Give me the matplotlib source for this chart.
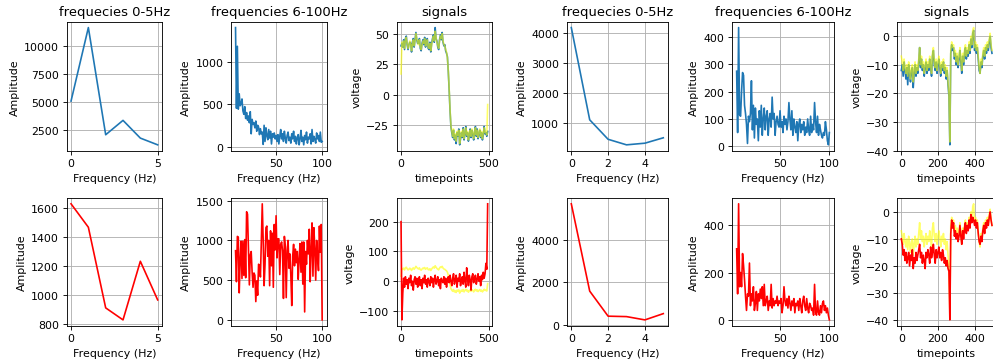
import matplotlib
matplotlib.use("Agg")
import matplotlib.pyplot as plt
import numpy as np

# frequency axes
freq_low = [0, 1, 2, 3, 4, 5]
freq_high = list(range(6, 101))
# timepoints (every 5th sample)
timepoints = list(range(0, 500, 5))

# ---- first recording ----
amp_low_1 = [5100, 11650, 2100, 3380, 1800, 1200]
amp_low_1_filt = [1629, 1467, 910, 827, 1232, 965]

amp_high_1 = [1400, 450, 1180, 440, 620, 480, 500, 560, 420, 380,
              470, 330, 400, 310, 360, 280, 410, 150, 320, 260,
              280, 220, 300, 180, 250, 230, 140, 210, 150, 170,
              25, 250, 60, 220, 130, 80, 200, 100, 180, 30,
              150, 110, 160, 90, 130, 60, 140, 30, 120, 200,
              90, 150, 60, 180, 100, 40, 130, 170, 70, 110,
              40, 150, 90, 180, 60, 120, 30, 100, 140, 20,
              90, 190, 60, 110, 20, 130, 80, 170, 40, 110,
              90, 150, 30, 200, 60, 120, 80, 40, 160, 90,
              130, 60, 170, 50, 60]
amp_high_1_filt = [870, 480, 1050, 1040, 340, 750, 990, 520, 990, 560,
                   1010, 530, 1360, 1330, 900, 440, 820, 860, 600, 410,
                   590, 560, 230, 490, 310, 700, 680, 540, 990, 1460,
                   1000, 430, 700, 1160, 1180, 800, 1000, 430, 1120, 680,
                   1090, 410, 1200, 880, 1310, 780, 1020, 1020, 570, 950,
                   980, 870, 270, 1050, 920, 280, 870, 1000, 650, 830,
                   560, 180, 800, 950, 680, 890, 720, 860, 510, 760,
                   960, 600, 980, 450, 980, 100, 860, 700, 1000, 830,
                   1140, 480, 880, 1220, 550, 1160, 900, 500, 1000, 800,
                   620, 1180, 850, 1200, 0]

sig_1_raw = [17, 43, 40, 44, 38, 45, 47, 42, 38, 40,
             44, 41, 36, 42, 45, 40, 44, 50, 46, 43,
             41, 45, 39, 37, 41, 44, 42, 46, 40, 43,
             45, 39, 38, 42, 36, 41, 45, 48, 44, 52,
             47, 43, 40, 38, 44, 48, 46, 50, 44, 41,
             40, 37, 35, 30, 20, 5, -12, -25, -30, -34,
             -28, -36, -32, -38, -30, -33, -29, -40, -35, -30,
             -34, -28, -36, -31, -27, -33, -30, -37, -32, -29,
             -34, -28, -31, -36, -30, -27, -33, -29, -35, -31,
             -28, -34, -30, -36, -32, -27, -31, -30, -33, -8]
sig_1_rec = [40, 42, 39, 45, 37, 46, 48, 41, 37, 41,
             43, 42, 35, 43, 46, 39, 45, 51, 45, 42,
             42, 46, 38, 36, 42, 45, 41, 47, 39, 44,
             46, 38, 37, 43, 35, 42, 46, 49, 43, 55,
             46, 44, 39, 37, 45, 49, 45, 51, 43, 40,
             41, 36, 34, 31, 19, 4, -13, -26, -31, -35,
             -29, -37, -33, -40, -31, -34, -28, -41, -36, -31,
             -35, -27, -37, -32, -26, -34, -31, -38, -33, -28,
             -35, -29, -32, -37, -31, -26, -34, -28, -36, -32,
             -29, -35, -31, -37, -33, -26, -32, -31, -34, -30]
sig_1_filt = [200, -130, -40, 10, -20, 15, -10, 5, -25, 10,
              -5, 20, -15, 0, -30, 5, 15, -10, 10, -20,
              0, 15, -15, 5, -25, 10, -5, 20, -10, 5,
              -20, 10, 0, -15, 15, -5, 10, -20, 5, 20,
              -10, 0, 15, -15, 5, -25, 10, 0, -5, 15,
              -10, 10, -20, 5, 15, -5, 20, 0, -15, 10,
              25, -10, 5, 20, -20, 10, 0, 25, -15, 5,
              15, -10, 30, 0, -20, 45, 10, -15, 20, 5,
              -30, 15, 25, -5, 10, 20, -10, 5, 25, 0,
              15, -15, 20, 5, 30, 10, 25, 60, 40, 260]

# ---- second recording ----
amp_low_2 = [4190, 1110, 460, 275, 330, 510]
amp_low_2_filt = [5690, 1580, 400, 380, 225, 520]

amp_high_2 = [275, 50, 435, 115, 110, 200, 270, 260, 150, 120,
              80, 10, 110, 90, 120, 240, 60, 150, 30, 140,
              80, 100, 20, 130, 70, 150, 40, 100, 140, 60,
              110, 130, 40, 100, 120, 70, 180, 100, 120, 40,
              90, 110, 80, 70, 130, 70, 90, 50, 110, 80,
              100, 60, 90, 160, 100, 60, 130, 40, 100, 70,
              50, 90, 20, 80, 100, 50, 80, 60, 90, 40,
              70, 50, 100, 60, 40, 110, 50, 80, 60, 160,
              90, 50, 110, 40, 80, 60, 40, 30, 50, 40,
              90, 60, 20, 5, 50]
amp_high_2_filt = [300, 110, 490, 140, 200, 140, 280, 230, 170, 100,
                   40, 110, 100, 240, 60, 110, 80, 140, 40, 70,
                   120, 40, 110, 80, 130, 90, 140, 60, 150, 60,
                   80, 100, 40, 80, 60, 150, 50, 90, 60, 80,
                   70, 100, 60, 80, 70, 90, 30, 60, 140, 80,
                   60, 90, 50, 100, 70, 40, 80, 60, 90, 30,
                   70, 60, 80, 40, 90, 60, 30, 80, 100, 60,
                   40, 90, 50, 30, 70, 60, 40, 50, 20, 150,
                   30, 20, 80, 30, 20, 60, 30, 70, 80, 40,
                   60, 30, 50, 20, 0]

sig_2_raw = [-7, -9, -12, -8, -11, -13, -10, -14, -9, -12,
             -15, -11, -10, -16, -12, -9, -13, -10, -12, -8,
             -4, -10, -7, -11, -9, -13, -10, -8, -12, -9,
             -11, -7, -10, -13, -6, -4, -9, -11, -8, -12,
             -9, -7, -10, -13, -9, -11, -8, -12, -10, -14,
             -11, -16, -20, -37, -5, -2, -4, -3, -7, -5,
             -9, -6, -10, -7, -4, -8, -12, -6, -9, -5,
             -3, -7, -4, -6, -2, -5, 0, -3, 2, 3,
             -4, -2, -5, -3, -7, -11, -13, -8, -10, -6,
             -4, -7, -3, -5, -2, -4, -1, 1, -3, -5]
sig_2_rec = [-12, -10, -14, -9, -12, -15, -11, -17, -10, -13,
             -16, -12, -11, -18, -13, -10, -14, -11, -13, -9,
             -4, -11, -8, -12, -10, -14, -11, -9, -13, -10,
             -12, -8, -11, -14, -7, -5, -10, -12, -9, -13,
             -10, -8, -11, -14, -10, -12, -9, -13, -11, -15,
             -12, -17, -21, -38, -6, -3, -5, -4, -8, -6,
             -10, -7, -11, -8, -5, -9, -13, -7, -10, -6,
             -4, -8, -5, -7, -3, -6, -1, -4, 1, 2,
             -5, -3, -6, -4, -8, -12, -13, -9, -11, -7,
             -5, -8, -4, -6, -3, -5, -2, 0, -4, -6]
sig_2_filt = [-10, -12, -16, -14, -18, -15, -19, -17, -15, -20,
              -16, -18, -14, -21, -17, -19, -15, -18, -16, -14,
              -12, -17, -15, -19, -16, -18, -21, -15, -17, -14,
              -16, -19, -13, -17, -15, -12, -16, -19, -14, -17,
              -15, -13, -17, -15, -18, -14, -16, -19, -17, -20,
              -18, -21, -22, -40, -8, -3, -6, -4, -9, -7,
              -10, -8, -11, -9, -5, -9, -12, -7, -10, -6,
              -4, -8, -5, -7, -3, -6, -1, -4, -2, -3,
              -5, -3, -6, -4, -8, -11, -12, -9, -11, -7,
              -5, -8, -4, -6, -3, -5, -2, 0, -3, -5]

# figure at 79 dpi so default font/line sizes come out as in the screenshot
DPI = 79
W, H = 993, 363
fig = plt.figure(figsize=(W / DPI, H / DPI), dpi=DPI)

col_x = [(66.7, 162), (231.2, 326.5), (396.7, 492), (566.7, 667.9), (732, 834), (896.8, 996.5)]
row_y = [(22.7, 151.7), (199, 326.7)]


def make_ax(row, col):
    x0, x1 = col_x[col]
    y0, y1 = row_y[row]
    return fig.add_axes([x0 / W, 1 - y1 / H, (x1 - x0) / W, (y1 - y0) / H])


def freq_panel(row, col, f, amp, color, title=None):
    ax = make_ax(row, col)
    ax.plot(f, amp, color=color)
    if title:
        ax.set_title(title)
    ax.set_xlabel("Frequency (Hz)")
    ax.set_ylabel("Amplitude")
    ax.grid(True)
    return ax


def signal_panel(row, col, series):
    ax = make_ax(row, col)
    for vals, color, alpha in series:
        ax.plot(timepoints, vals, color=color, alpha=alpha)
    if row == 0:
        ax.set_title("signals")
    ax.set_xlabel("timepoints")
    ax.set_ylabel("voltage")
    ax.grid(True)
    return ax


for k, (lo, lo_f, hi, hi_f, raw, rec, filt) in enumerate([
        (amp_low_1, amp_low_1_filt, amp_high_1, amp_high_1_filt, sig_1_raw, sig_1_rec, sig_1_filt),
        (amp_low_2, amp_low_2_filt, amp_high_2, amp_high_2_filt, sig_2_raw, sig_2_rec, sig_2_filt)]):
    c = 3 * k
    freq_panel(0, c, freq_low, lo, "C0", "frequecies 0-5Hz")
    freq_panel(0, c + 1, freq_high, hi, "C0", "frequencies 6-100Hz")
    signal_panel(0, c + 2, [(rec, "C0", 1.0), (raw, "yellow", 0.6)])
    freq_panel(1, c, freq_low, lo_f, "red")
    freq_panel(1, c + 1, freq_high, hi_f, "red")
    signal_panel(1, c + 2, [(raw, "yellow", 0.6), (filt, "red", 1.0)])

fig.savefig("out.png", dpi=DPI)
